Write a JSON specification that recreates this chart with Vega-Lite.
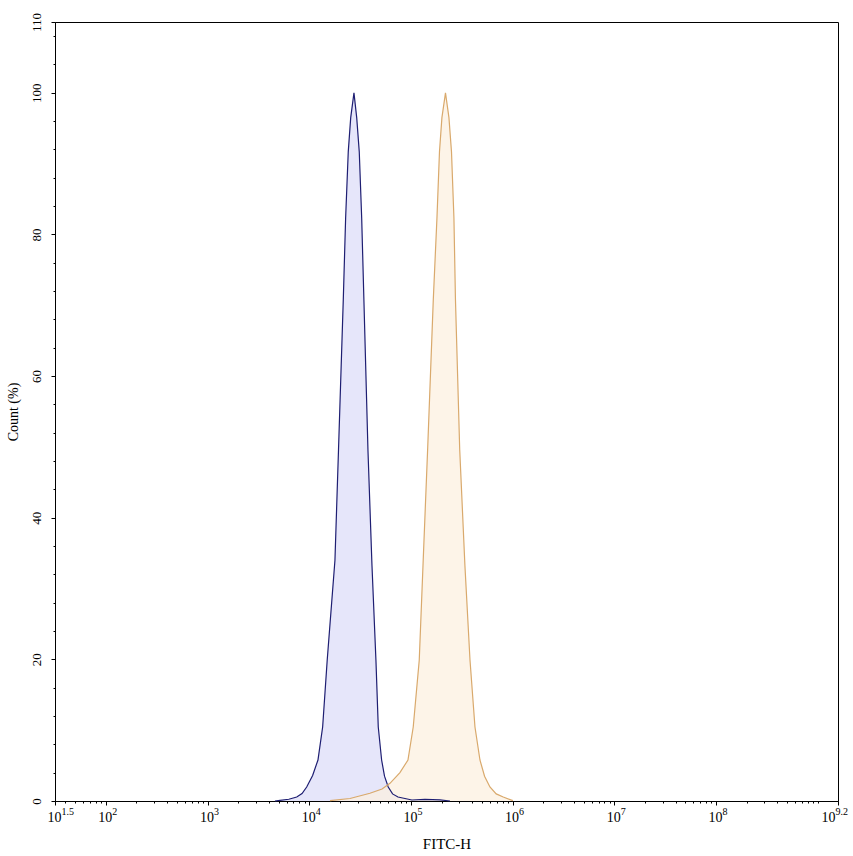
{
  "$schema": "https://vega.github.io/schema/vega-lite/v6.json",
  "autosize": "none",
  "padding": {"left": 55, "top": 22, "right": 15, "bottom": 55},
  "width": 783,
  "height": 779,
  "background": "white",
  "config": {
    "view": {"stroke": "black", "strokeWidth": 1},
    "font": "Liberation Serif",
    "axis": {"labelFont": "Liberation Serif", "titleFont": "Liberation Serif", "labelColor": "black", "titleColor": "black", "domainColor": "black", "tickColor": "black", "grid": false, "titleFontWeight": "normal"}
  },
  "datasets": {
    "curves": [
      {"sample": "isotype", "x": 4603, "y": 0},
      {"sample": "isotype", "x": 5152, "y": 0.1},
      {"sample": "isotype", "x": 6300, "y": 0.25},
      {"sample": "isotype", "x": 7534, "y": 0.56},
      {"sample": "isotype", "x": 8500, "y": 1.05},
      {"sample": "isotype", "x": 9441, "y": 1.98},
      {"sample": "isotype", "x": 10800, "y": 3.6},
      {"sample": "isotype", "x": 12190, "y": 5.79},
      {"sample": "isotype", "x": 13552, "y": 10.45},
      {"sample": "isotype", "x": 15031, "y": 19.9},
      {"sample": "isotype", "x": 17906, "y": 34.0},
      {"sample": "isotype", "x": 19410, "y": 49.6},
      {"sample": "isotype", "x": 21627, "y": 70.8},
      {"sample": "isotype", "x": 22803, "y": 82.3},
      {"sample": "isotype", "x": 24210, "y": 91.7},
      {"sample": "isotype", "x": 25586, "y": 96.5},
      {"sample": "isotype", "x": 27542, "y": 100},
      {"sample": "isotype", "x": 29309, "y": 96.5},
      {"sample": "isotype", "x": 31046, "y": 91.7},
      {"sample": "isotype", "x": 32810, "y": 82.3},
      {"sample": "isotype", "x": 34514, "y": 70.6},
      {"sample": "isotype", "x": 37800, "y": 49.6},
      {"sample": "isotype", "x": 41400, "y": 33.3},
      {"sample": "isotype", "x": 45290, "y": 19.9},
      {"sample": "isotype", "x": 47750, "y": 10.45},
      {"sample": "isotype", "x": 51520, "y": 5.79},
      {"sample": "isotype", "x": 55000, "y": 3.5},
      {"sample": "isotype", "x": 59840, "y": 1.98},
      {"sample": "isotype", "x": 66000, "y": 1.0},
      {"sample": "isotype", "x": 74640, "y": 0.56},
      {"sample": "isotype", "x": 102300, "y": 0.14},
      {"sample": "isotype", "x": 137400, "y": 0.22},
      {"sample": "isotype", "x": 193200, "y": 0.15},
      {"sample": "isotype", "x": 242100, "y": 0},
      {"sample": "antibody", "x": 16000, "y": 0.05},
      {"sample": "antibody", "x": 25180, "y": 0.35},
      {"sample": "antibody", "x": 39540, "y": 1.09},
      {"sample": "antibody", "x": 52000, "y": 1.7},
      {"sample": "antibody", "x": 62230, "y": 2.5},
      {"sample": "antibody", "x": 78000, "y": 4.0},
      {"sample": "antibody", "x": 93540, "y": 5.79},
      {"sample": "antibody", "x": 105400, "y": 10.45},
      {"sample": "antibody", "x": 120800, "y": 19.9},
      {"sample": "antibody", "x": 132100, "y": 34.0},
      {"sample": "antibody", "x": 146000, "y": 49.6},
      {"sample": "antibody", "x": 166000, "y": 70.8},
      {"sample": "antibody", "x": 180300, "y": 82.3},
      {"sample": "antibody", "x": 191000, "y": 91.7},
      {"sample": "antibody", "x": 201800, "y": 96.5},
      {"sample": "antibody", "x": 218800, "y": 100},
      {"sample": "antibody", "x": 236600, "y": 96.5},
      {"sample": "antibody", "x": 250600, "y": 91.7},
      {"sample": "antibody", "x": 264900, "y": 82.3},
      {"sample": "antibody", "x": 274200, "y": 70.8},
      {"sample": "antibody", "x": 302000, "y": 49.6},
      {"sample": "antibody", "x": 339600, "y": 33.3},
      {"sample": "antibody", "x": 381100, "y": 19.9},
      {"sample": "antibody", "x": 426600, "y": 10.45},
      {"sample": "antibody", "x": 477500, "y": 5.79},
      {"sample": "antibody", "x": 530000, "y": 3.5},
      {"sample": "antibody", "x": 598400, "y": 1.98},
      {"sample": "antibody", "x": 690000, "y": 1.0},
      {"sample": "antibody", "x": 809100, "y": 0.56},
      {"sample": "antibody", "x": 1007000, "y": 0.05}
    ]
  },
  "data": {"name": "curves"},
  "layer": [
    {
      "mark": {"type": "area", "fillOpacity": 0.7, "interpolate": "linear"},
      "encoding": {
        "x": {
          "field": "x", "type": "quantitative",
          "scale": {"type": "log", "domain": [31.6227766, 1584893192.46], "nice": false},
          "axis": {
            "orient": "bottom",
            "title": "FITC-H", "titleFontSize": 15, "titlePadding": 12,
            "values": [31.6227766, 100, 1000, 10000, 100000, 1000000, 10000000, 100000000, 1584893192.46],
            "labelExpr": "'10'",
            "labelAlign": "right",
            "labelOffset": {"condition": {"test": "datum.value > 1.2e9", "value": -3}, "value": 6},
            "labelFontSize": 14, "labelPadding": 5, "tickSize": 4, "labelFlush": false, "labelOverlap": false
          }
        },
        "y": {
          "field": "y", "type": "quantitative", "stack": null,
          "scale": {"domain": [0, 110], "nice": false, "zero": true},
          "axis": {
            "orient": "left",
            "title": "Count  (%)", "titleFontSize": 14, "titlePadding": 10,
            "values": [0, 20, 40, 60, 80, 100, 110],
            "labelAngle": -90, "labelFontSize": 13, "labelPadding": 8, "tickSize": 4
          }
        },
        "fill": {
          "field": "sample", "type": "nominal",
          "scale": {"domain": ["isotype", "antibody"], "range": ["#dbdbf8", "#fcefde"]},
          "legend": null
        }
      }
    },
    {
      "mark": {"type": "line", "strokeWidth": 1.2, "interpolate": "linear"},
      "encoding": {
        "x": {
          "field": "x", "type": "quantitative",
          "axis": {
            "orient": "bottom",
            "title": null, "labels": false, "domain": false, "tickSize": 2,
            "values": [40, 50, 60, 70, 80, 90, 200, 300, 400, 500, 600, 700, 800, 900, 2000, 3000, 4000, 5000, 6000, 7000, 8000, 9000, 20000, 30000, 40000, 50000, 60000, 70000, 80000, 90000, 200000, 300000, 400000, 500000, 600000, 700000, 800000, 900000, 2000000, 3000000, 4000000, 5000000, 6000000, 7000000, 8000000, 9000000, 20000000, 30000000, 40000000, 50000000, 60000000, 70000000, 80000000, 90000000, 200000000, 300000000, 400000000, 500000000, 600000000, 700000000, 800000000, 900000000, 1000000000]
          }
        },
        "y": {
          "field": "y", "type": "quantitative", "stack": null,
          "axis": {
            "orient": "left",
            "title": null, "labels": false, "domain": false, "tickSize": 2,
            "values": [4, 8, 12, 16, 24, 28, 32, 36, 44, 48, 52, 56, 64, 68, 72, 76, 84, 88, 92, 96, 104, 108]
          }
        },
        "stroke": {
          "field": "sample", "type": "nominal",
          "scale": {"domain": ["isotype", "antibody"], "range": ["#1e1e72", "#d9a96c"]},
          "legend": null
        }
      }
    },
    {
      "mark": {"type": "line", "opacity": 0},
      "encoding": {
        "x": {
          "field": "x", "type": "quantitative",
          "axis": {
            "orient": "bottom",
            "title": null, "domain": false, "ticks": false, "tickSize": 4,
            "values": [31.6227766, 100, 1000, 10000, 100000, 1000000, 10000000, 100000000, 1584893192.46],
            "labelExpr": "datum.value < 50 ? '1.5' : datum.value > 1.2e9 ? '9.2' : '' + round(log(datum.value)/LN10)",
            "labelAlign": "left", "labelDy": -3,
            "labelOffset": {"condition": {"test": "datum.value > 1.2e9", "value": -3}, "value": 6},
            "labelFontSize": 10, "labelPadding": 5, "labelFlush": false, "labelOverlap": false
          }
        },
        "y": {"field": "y", "type": "quantitative", "stack": null, "axis": null}
      }
    }
  ],
  "resolve": {"axis": {"x": "independent", "y": "independent"}, "scale": {"fill": "independent", "stroke": "independent"}}
}
